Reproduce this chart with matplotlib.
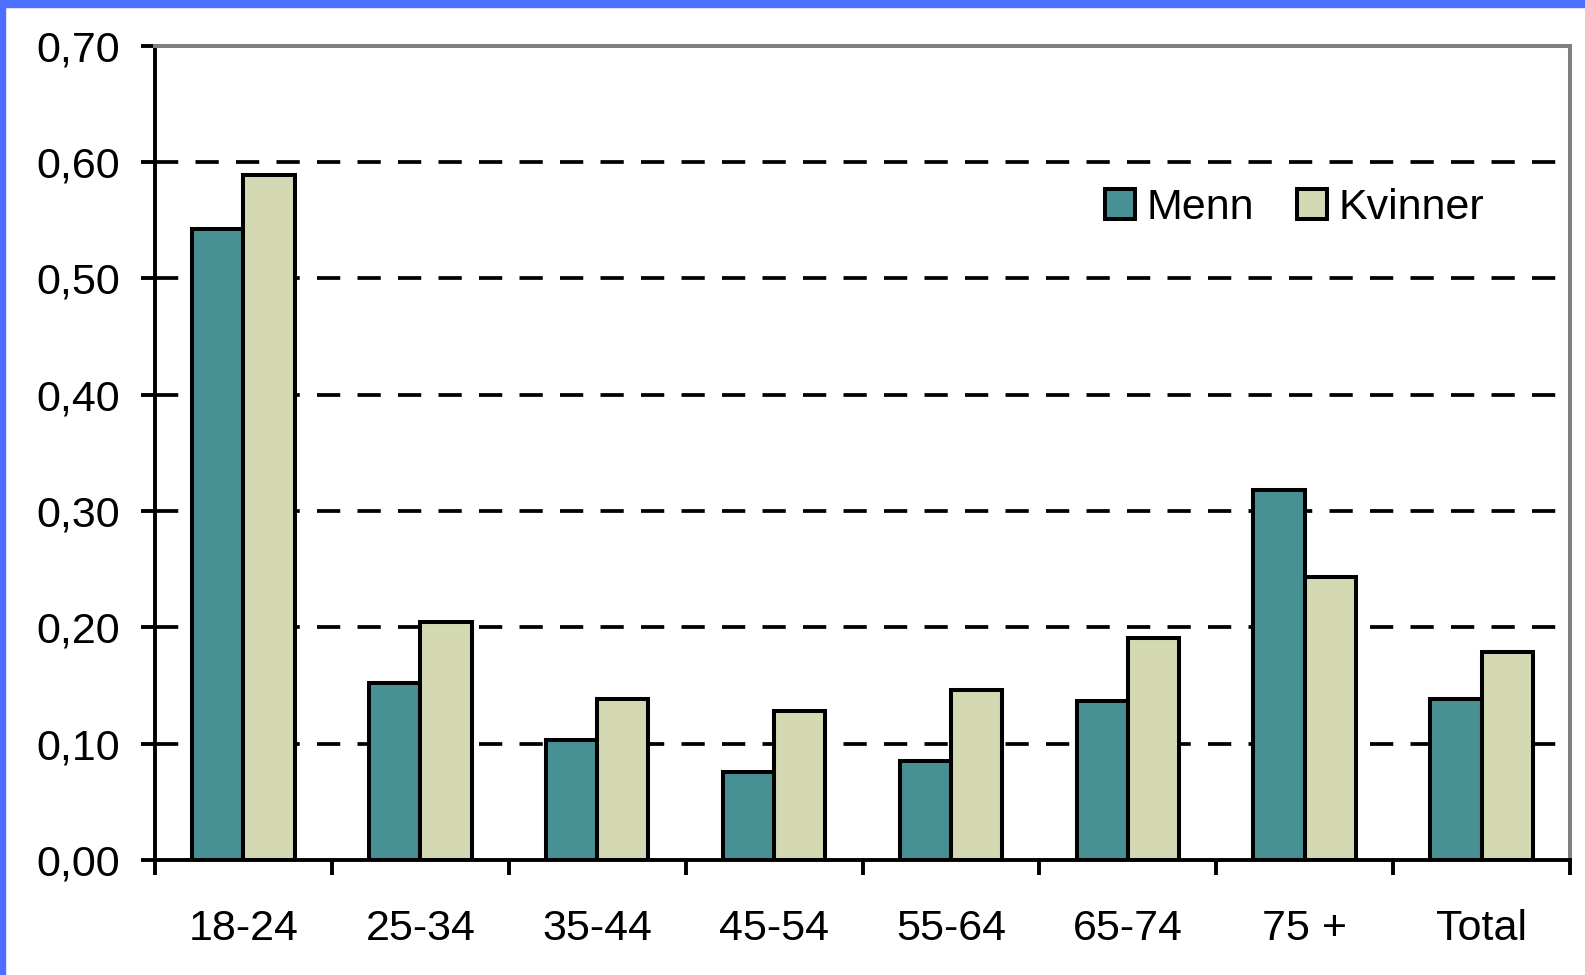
import matplotlib
matplotlib.use("Agg")
import matplotlib.pyplot as plt
from matplotlib.patches import Rectangle, Patch
import numpy as np

categories = ["18-24", "25-34", "35-44", "45-54", "55-64", "65-74", "75 +", "Total"]
menn = [0.542, 0.152, 0.103, 0.076, 0.085, 0.137, 0.318, 0.138]
kvinner = [0.589, 0.205, 0.138, 0.128, 0.146, 0.191, 0.243, 0.179]
y_ticks = [0.0, 0.1, 0.2, 0.3, 0.4, 0.5, 0.6, 0.7]
y_tick_labels = ["0,00", "0,10", "0,20", "0,30", "0,40", "0,50", "0,60", "0,70"]
grid_levels = [0.1, 0.2, 0.3, 0.4, 0.5, 0.6]
series_names = ["Menn", "Kvinner"]

c_menn = "#479195"
c_kvin = "#d4d9b4"

plt.rcParams["font.family"] = ["Liberation Sans", "DejaVu Sans"]

W, H = 1585, 975
fig = plt.figure(figsize=(W / 100, H / 100), dpi=100)
fig.patch.set_facecolor("white")
ax = fig.add_axes([155 / W, 1 - 860 / H, (1570 - 155) / W, (860 - 45.7) / H])

x = np.arange(len(categories))
bw = 0.29
ax.bar(x - bw / 2, menn, width=bw, color=c_menn, edgecolor="black", linewidth=2.9, zorder=3)
ax.bar(x + bw / 2, kvinner, width=bw, color=c_kvin, edgecolor="black", linewidth=2.9, zorder=3)

for g in grid_levels:
    ax.axhline(g, color="black", linewidth=2.7, linestyle=(0, (6.2, 4.6)), zorder=1)

ax.set_xlim(-0.5, len(categories) - 0.5)
ax.set_ylim(0, 0.7)

ax.set_yticks(y_ticks)
ax.set_yticklabels(y_tick_labels)
ax.set_xticks(np.arange(len(categories) + 1) - 0.5)
ax.set_xticklabels([])
ax.set_xticks(x, minor=True)
ax.set_xticklabels(categories, minor=True)

ax.tick_params(axis="y", which="major", length=10, width=2.8, direction="out",
               pad=15, labelsize=31, colors="black")
ax.tick_params(axis="x", which="major", length=11, width=2.8, direction="out")
ax.tick_params(axis="x", which="minor", length=0, pad=35, labelsize=31)

for s in ["left", "bottom"]:
    ax.spines[s].set_color("black")
    ax.spines[s].set_linewidth(2.8)
for s in ["top", "right"]:
    ax.spines[s].set_color("#808080")
    ax.spines[s].set_linewidth(2.9)
for s in ax.spines.values():
    s.set_zorder(4)

handles = [Patch(facecolor=c_menn, edgecolor="black", linewidth=2.9),
           Patch(facecolor=c_kvin, edgecolor="black", linewidth=2.9)]
fig.legend(handles, series_names, loc="center left",
           bbox_to_anchor=(1105 / W, 1 - 208 / H), bbox_transform=fig.transFigure,
           ncol=2, frameon=False, fontsize=31, handlelength=0.7, handleheight=0.7,
           handletextpad=0.26, columnspacing=1.0, borderpad=0, borderaxespad=0)

blue = "#4b6fff"
fig.patches.append(Rectangle((0, 0), 5 / W, 1, transform=fig.transFigure,
                             color=blue, zorder=10))
fig.patches.append(Rectangle((0, 1 - 7 / H), 1, 7 / H, transform=fig.transFigure,
                             color=blue, zorder=10))

fig.savefig("out.png", dpi=100, facecolor="white")
